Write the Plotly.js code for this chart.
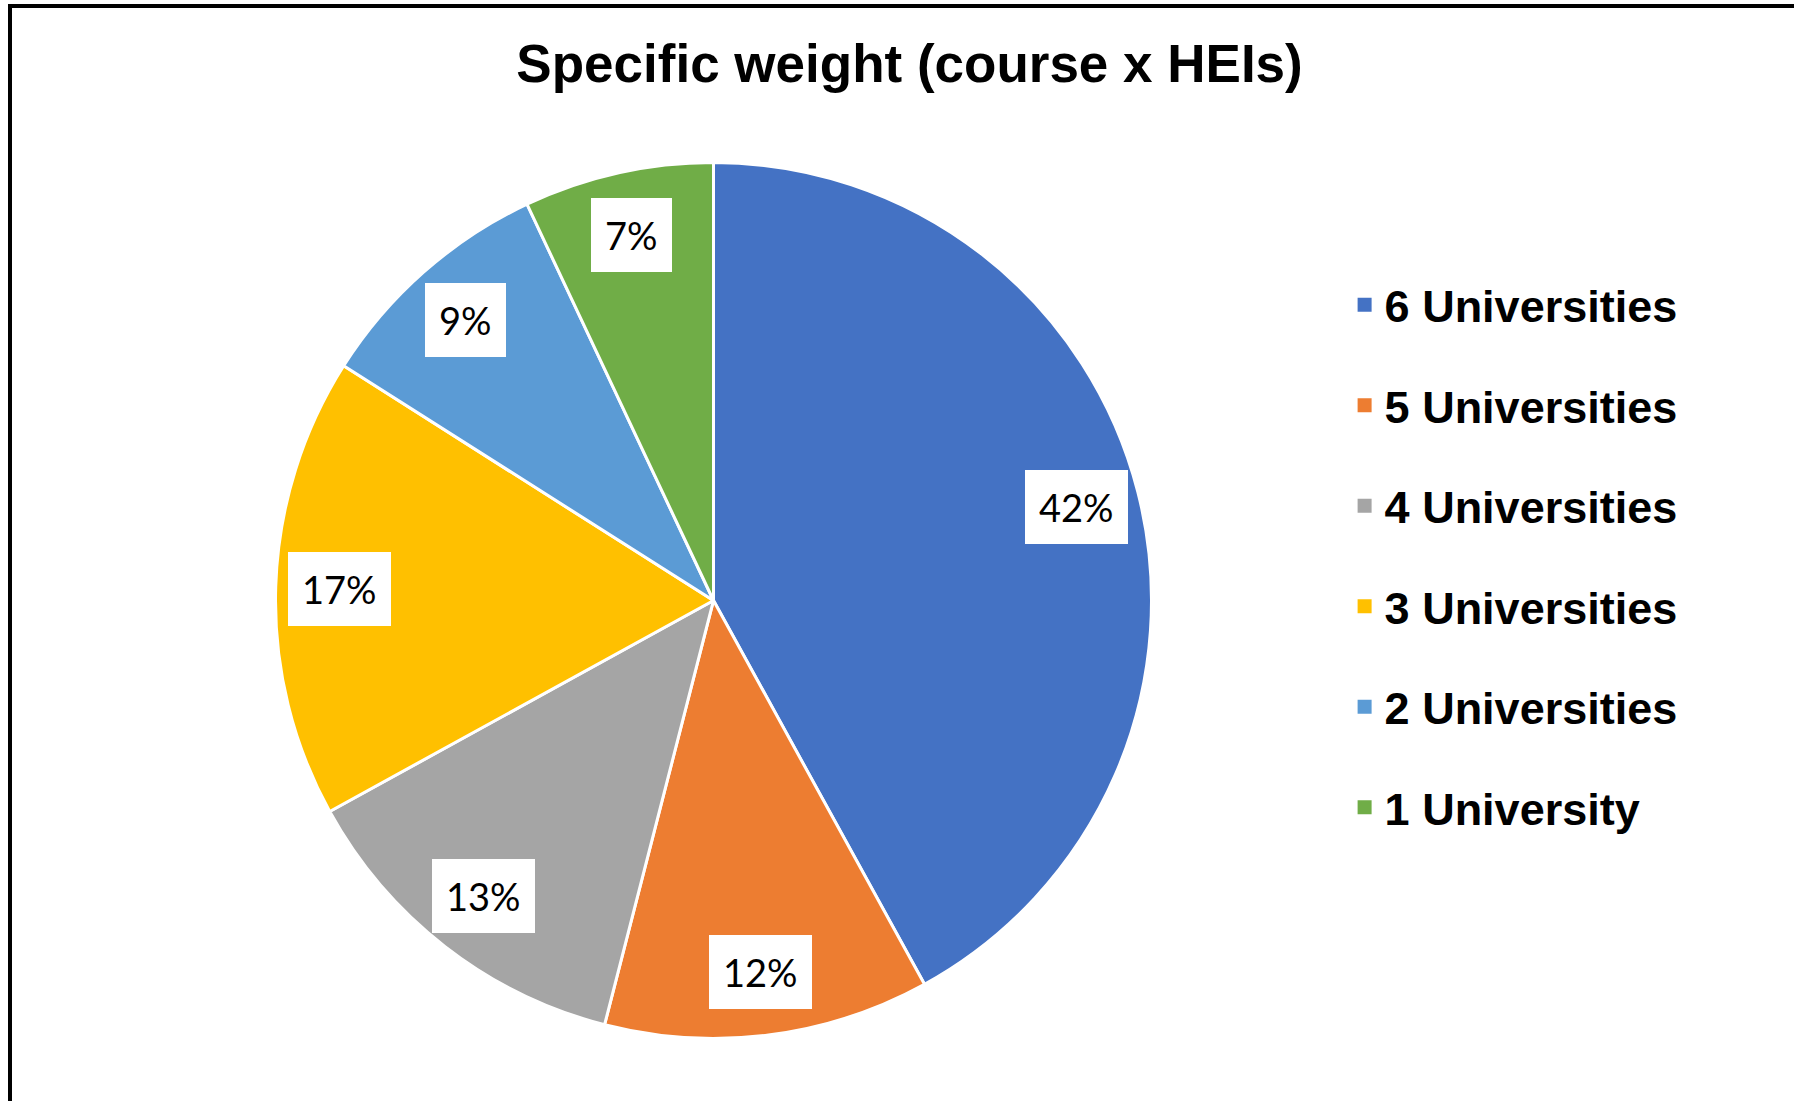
<!DOCTYPE html>
<html>
<head>
<meta charset="utf-8">
<script src="https://cdn.plot.ly/plotly-3.0.1.min.js"></script>
<style>
  html, body { margin: 0; padding: 0; background: #ffffff; }
  #chart { width: 1794px; height: 1101px; }
</style>
</head>
<body>
<div id="chart"></div>
<script>
// ---- Data ----
const categories = ["6 Universities", "5 Universities", "4 Universities", "3 Universities", "2 Universities", "1 University"];
const shares = [42, 12, 13, 17, 9, 7];
const sliceColors = ["#4472C4", "#ED7D31", "#A5A5A5", "#FFC000", "#5B9BD5", "#70AD47"];
const chartTitle = "Specific weight (course x HEIs)";

// ---- Layout constants ----
const W = 1794, H = 1101;
const pieDomain = { x: [0.15357, 0.64186], y: [0.05677, 0.85241] };
const labelRadiusFrac = 0.855;

// derived pie geometry (pixel) from domain, same as Plotly does with zero margins
const pw = (pieDomain.x[1] - pieDomain.x[0]) * W;
const ph = (pieDomain.y[1] - pieDomain.y[0]) * H;
const R = Math.min(pw, ph) / 2;
const cx = (pieDomain.x[0] + pieDomain.x[1]) / 2 * W;
const cyUp = (pieDomain.y[0] + pieDomain.y[1]) / 2 * H; // from bottom

const total = shares.reduce((a, b) => a + b, 0);
let cum = 0;
const annotations = shares.map((v) => {
  const theta = (cum + v / 2) / total * 2 * Math.PI;
  cum += v;
  const px = cx + labelRadiusFrac * R * Math.sin(theta);
  const py = cyUp + labelRadiusFrac * R * Math.cos(theta);
  return {
    x: px / W, y: py / H, xref: "paper", yref: "paper",
    xanchor: "center", yanchor: "middle",
    text: Math.round(v / total * 100) + "%",
    showarrow: false,
    bgcolor: "#ffffff",
    borderpad: 14,
    borderwidth: 0,
    font: { family: "Lato, 'Open Sans', sans-serif", size: 38, color: "#000000" }
  };
});

const pieTrace = {
  type: "pie",
  labels: categories,
  values: shares,
  sort: false,
  direction: "clockwise",
  rotation: 0,
  textinfo: "none",
  hoverinfo: "skip",
  showlegend: false,
  marker: { colors: sliceColors, line: { color: "#ffffff", width: 3 } },
  domain: pieDomain
};

// legend entries (one per category, each its own legend group so spacing can be set)
const legendTraces = categories.map((name, i) => ({
  type: "scatter",
  mode: "markers",
  x: [null], y: [null],
  name: name,
  legendgroup: name,
  showlegend: true,
  hoverinfo: "skip",
  marker: { symbol: "square", size: 14, color: sliceColors[i] }
}));

const layout = {
  width: W, height: H,
  margin: { l: 0, r: 0, t: 0, b: 0 },
  paper_bgcolor: "#ffffff",
  plot_bgcolor: "rgba(0,0,0,0)",
  xaxis: { visible: false, domain: [0.99, 1] },
  yaxis: { visible: false, domain: [0.99, 1] },
  title: {
    text: chartTitle,
    x: 0.507, xanchor: "center", xref: "paper",
    y: 0.942, yanchor: "middle", yref: "container",
    font: { family: "'Liberation Sans', Arial, sans-serif", size: 53, weight: "bold", color: "#000000" }
  },
  showlegend: true,
  legend: {
    x: 0.7495, xanchor: "left",
    y: 0.7556, yanchor: "top",
    traceorder: "grouped",
    tracegroupgap: 39,
    font: { family: "'Liberation Sans', Arial, sans-serif", size: 45, weight: "bold", color: "#000000" },
    bgcolor: "rgba(0,0,0,0)"
  },
  annotations: annotations,
  shapes: [{
    type: "path", xref: "paper", yref: "paper",
    path: "M " + (10 / W) + " 0 L " + (10 / W) + " " + (1 - 6 / H) + " L 1 " + (1 - 6 / H),
    line: { color: "#000000", width: 4 }
  }]
};

Plotly.newPlot("chart", [pieTrace].concat(legendTraces), layout, { displayModeBar: false, staticPlot: true });
</script>
</body>
</html>
